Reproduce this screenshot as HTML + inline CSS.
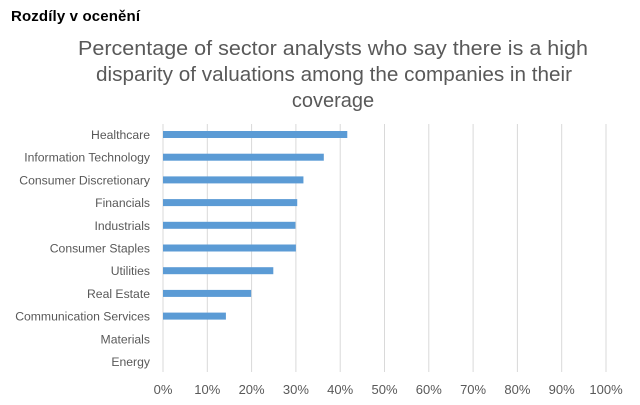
<!DOCTYPE html>
<html><head><meta charset="utf-8"><style>
body{margin:0;background:#fff;}
svg{display:block;font-family:"Liberation Sans",sans-serif;}
</style></head><body>
<svg id="chart" width="640" height="405">
<text x="11" y="21" font-size="15" font-weight="bold" fill="#000" textLength="129">Rozdíly v ocenění</text>
<g fill="#595959" font-size="20" text-anchor="middle">
<text x="333" y="55" textLength="510" lengthAdjust="spacingAndGlyphs">Percentage of sector analysts who say there is a high</text>
<text x="334" y="81" textLength="476" lengthAdjust="spacingAndGlyphs">disparity of valuations among the companies in their</text>
<text x="333" y="107">coverage</text>
</g>
<g id="grid"></g><g id="bars"></g><g id="ylabels"></g><g id="xlabels"></g>
</svg>
<script>
const categories=["Healthcare","Information Technology","Consumer Discretionary","Financials","Industrials","Consumer Staples","Utilities","Real Estate","Communication Services","Materials","Energy"];
const values=[41.6,36.3,31.7,30.3,29.9,30.0,24.9,19.9,14.2,0,0];
const ticks=[0,10,20,30,40,50,60,70,80,90,100];
const tickLabels=["0%","10%","20%","30%","40%","50%","60%","70%","80%","90%","100%"];
const NS="http://www.w3.org/2000/svg";
const x0=163,x1=606,yTop=124,yBot=372,row0=134.5,rowStep=22.7,barH=7;
const xs=v=>x0+(v/100)*(x1-x0);
const ys=i=>row0+i*rowStep;
function mk(t,a,p){const e=document.createElementNS(NS,t);for(const k in a)e.setAttribute(k,a[k]);document.getElementById(p).appendChild(e);return e;}
ticks.forEach((t,i)=>{
const l=mk('line',{x1:xs(t),x2:xs(t),y1:yTop,y2:yBot,stroke:'#d9d9d9','stroke-width':1},'grid');


const tx=mk('text',{x:xs(t),y:394,'text-anchor':'middle','font-size':13,fill:'#595959'},'xlabels');
tx.textContent=tickLabels[i];


});
categories.forEach((c,i)=>{
const r=mk('rect',{x:x0,y:ys(i)-barH/2,width:xs(values[i])-x0,height:barH,fill:'#5b9bd5'},'bars');


const tx=mk('text',{x:150,y:ys(i)+4.5,'text-anchor':'end','font-size':12.2,fill:'#595959'},'ylabels');
tx.textContent=c;


});
</script>
</body></html>
